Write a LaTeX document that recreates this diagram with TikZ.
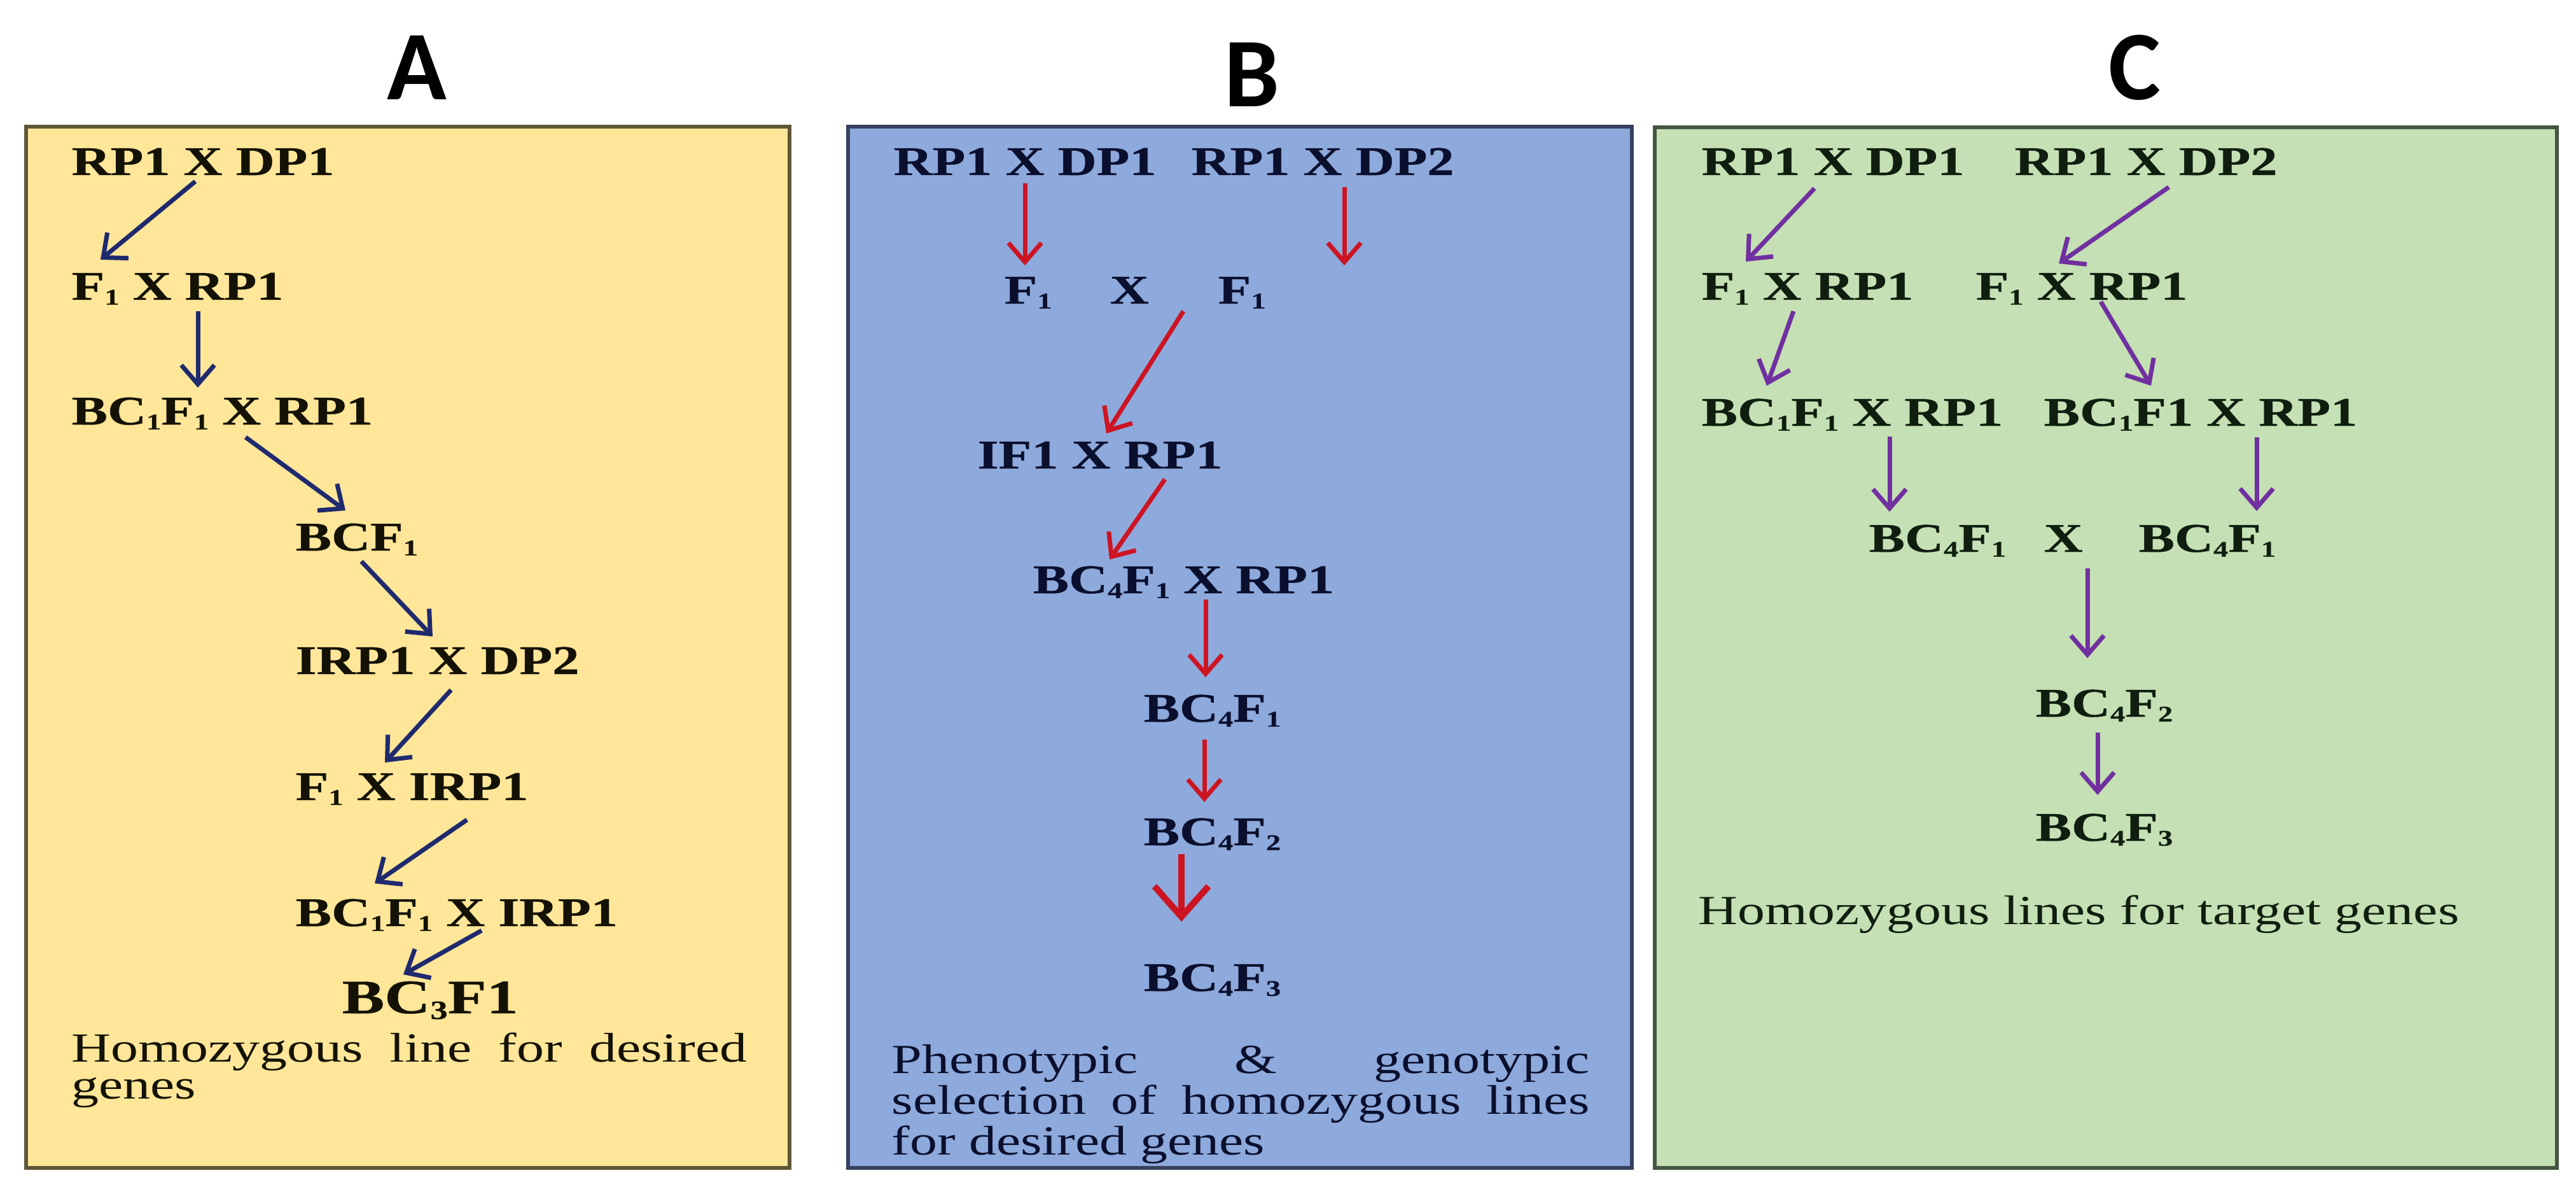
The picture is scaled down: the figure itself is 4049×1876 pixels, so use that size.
\documentclass[tikz,border=0pt]{standalone}
\usepackage{fontspec}
\setmainfont{Liberation Serif}[FakeStretch=1.32, BoldFeatures={FakeBold=0.6}]
\newfontfamily\titlefont{Carlito}
\usetikzlibrary{arrows.meta}
\newcommand\sbs[1]{\raisebox{-0.12em}{\scalebox{0.55}{#1}}}
\tolerance=10000
\hyphenpenalty=10000
\exhyphenpenalty=10000
\definecolor{fillA}{RGB}{255,230,153}
\definecolor{fillB}{RGB}{142,169,219}
\definecolor{fillC}{RGB}{197,224,180}
\definecolor{bordA}{RGB}{95,85,55}
\definecolor{bordB}{RGB}{55,65,95}
\definecolor{bordC}{RGB}{70,85,65}
\definecolor{navyA}{RGB}{31,42,110}
\definecolor{redB}{RGB}{205,20,35}
\definecolor{purC}{RGB}{112,48,160}
\definecolor{txtA}{RGB}{20,18,5}
\definecolor{txtB}{RGB}{10,15,45}
\definecolor{txtC}{RGB}{15,30,15}
\tikzset{
  panel/.style={line width=0.06cm},
  lab/.style={anchor=base west, inner sep=0pt, font=\fontsize{18.2}{22}\selectfont\bfseries},
  title/.style={anchor=base, inner sep=0pt, font=\titlefont\fontsize{44}{48}\selectfont\bfseries},
  para/.style={anchor=north west, inner sep=0pt, align=justify, font=\fontsize{18.5}{16.5}\selectfont},
  arA/.style={draw=navyA, line width=0.07cm, -{Straight Barb[length=0.3cm,width=0.52cm]}},
  arB/.style={draw=redB, line width=0.07cm, -{Straight Barb[length=0.3cm,width=0.52cm]}},
  arBbig/.style={draw=redB, line width=0.1cm, -{Straight Barb[length=0.48cm,width=0.85cm]}},
  arC/.style={draw=purC, line width=0.07cm, -{Straight Barb[length=0.3cm,width=0.52cm]}},
}
\begin{document}
\begin{tikzpicture}[x=0.01cm, y=-0.01cm]
\useasboundingbox (0,0) rectangle (4049,1876);
\fill[white] (0,0) rectangle (4049,1876);

% panels
\draw[panel, fill=fillA, draw=bordA] (41,199) rectangle (1241,1835);
\draw[panel, fill=fillB, draw=bordB] (1333,199) rectangle (2565,1835);
\draw[panel, fill=fillC, draw=bordC] (2601,200) rectangle (4019,1835);

% titles
\node[title] (tA) at (655,157) {A};
\node[title] (tB) at (1968,168) {B};
\node[title] (tC) at (3355,157) {C};

% ---------- Panel A ----------
\begin{scope}[every node/.append style={text=txtA}]
\node[lab] (a1) at (112,275) {RP1 X DP1};
\node[lab] (a2) at (112,471) {F\sbs{1} X RP1};
\node[lab] (a3) at (112,667) {BC\sbs{1}F\sbs{1} X RP1};
\node[lab] (a4) at (464,865) {BCF\sbs{1}};
\node[lab] (a5) at (464,1059) {IRP1 X DP2};
\node[lab] (a6) at (464,1257) {F\sbs{1} X IRP1};
\node[lab] (a7) at (464,1455) {BC\sbs{1}F\sbs{1} X IRP1};
\node[lab, font=\fontsize{21.5}{26}\selectfont\bfseries] (a8) at (537,1592) {BC\sbs{3}F1};
\node[para, text width=10.61cm] (pa) at (112,1622) {Homozygous line for desired genes};
\end{scope}
\draw[arA] ([shift={(195,10)}]a1.base west) -- ([shift={(46,-63)}]a2.base west);
\draw[arA] ([shift={(199,18)}]a2.base west) -- ([shift={(199,-58)}]a3.base west);
\draw[arA] ([shift={(274,20)}]a3.base west) -- ([shift={(79,-63)}]a4.base west);
\draw[arA] ([shift={(104,17)}]a4.base west) -- ([shift={(216,-59)}]a5.base west);
\draw[arA] ([shift={(245,25)}]a5.base west) -- ([shift={(141,-59)}]a6.base west);
\draw[arA] ([shift={(270,31)}]a6.base west) -- ([shift={(125,-67)}]a7.base west);
\draw[arA] ([shift={(293,7)}]a7.base west) -- ([shift={(97,-61)}]a8.base west);

% ---------- Panel B ----------
\begin{scope}[every node/.append style={text=txtB}]
\node[lab] (b1) at (1404,275) {RP1 X DP1};
\node[lab] (b2) at (1872,275) {RP1 X DP2};
\node[lab] (b3) at (1578,477) {F\sbs{1}};
\node[lab] (b4) at (1744,477) {X};
\node[lab] (b5) at (1914,477) {F\sbs{1}};
\node[lab] (b6) at (1536,736) {IF1 X RP1};
\node[lab] (b7) at (1623,932) {BC\sbs{4}F\sbs{1} X RP1};
\node[lab] (b8) at (1797,1134) {BC\sbs{4}F\sbs{1}};
\node[lab] (b9) at (1797,1328) {BC\sbs{4}F\sbs{2}};
\node[lab] (b10) at (1797,1557) {BC\sbs{4}F\sbs{3}};
\node[para, text width=10.96cm, font=\fontsize{18.5}{18.2}\selectfont] (pb) at (1401,1641) {Phenotypic \& genotypic selection of homozygous lines for desired genes};
\end{scope}
\draw[arB] ([shift={(207,13)}]b1.base west) -- ([shift={(33,-60)}]b3.base west);
\draw[arB] ([shift={(241,19)}]b2.base west) -- ([shift={(199,-60)}]b5.base west);
\draw[arB] ([shift={(-54,12)}]b5.base west) -- ([shift={(203,-55)}]b6.base west);
\draw[arB] ([shift={(295,17)}]b6.base west) -- ([shift={(121,-53)}]b7.base west);
\draw[arB] ([shift={(272,10)}]b7.base west) -- ([shift={(98,-70)}]b8.base west);
\draw[arB] ([shift={(96,28)}]b8.base west) -- ([shift={(96,-68)}]b9.base west);
\draw[arBbig] ([shift={(60,14)}]b9.base west) -- ([shift={(60,-109)}]b10.base west);

% ---------- Panel C ----------
\begin{scope}[every node/.append style={text=txtC}]
\node[lab] (c1) at (2674,275) {RP1 X DP1};
\node[lab] (c2) at (3166,275) {RP1 X DP2};
\node[lab] (c3) at (2674,471) {F\sbs{1} X RP1};
\node[lab] (c4) at (3105,471) {F\sbs{1} X RP1};
\node[lab] (c5) at (2674,669) {BC\sbs{1}F\sbs{1} X RP1};
\node[lab] (c6) at (3212,669) {BC\sbs{1}F1 X RP1};
\node[lab] (c7) at (2937,867) {BC\sbs{4}F\sbs{1}};
\node[lab] (c8) at (3212,867) {X};
\node[lab] (c9) at (3361,867) {BC\sbs{4}F\sbs{1}};
\node[lab] (c10) at (3199,1126) {BC\sbs{4}F\sbs{2}};
\node[lab] (c11) at (3199,1321) {BC\sbs{4}F\sbs{3}};
\node[anchor=base west, inner sep=0pt, font=\fontsize{18.5}{22}\selectfont] (pc) at (2669,1452) {Homozygous lines for target genes};
\end{scope}
\draw[arC] ([shift={(178,21)}]c1.base west) -- ([shift={(70,-60)}]c3.base west);
\draw[arC] ([shift={(243,19)}]c2.base west) -- ([shift={(131,-57)}]c4.base west);
\draw[arC] ([shift={(145,18)}]c3.base west) -- ([shift={(103,-63)}]c5.base west);
\draw[arC] ([shift={(197,3)}]c4.base west) -- ([shift={(169,-63)}]c6.base west);
\draw[arC] ([shift={(296,17)}]c5.base west) -- ([shift={(33,-63)}]c7.base west);
\draw[arC] ([shift={(335,18)}]c6.base west) -- ([shift={(186,-64)}]c9.base west);
\draw[arC] ([shift={(69,26)}]c8.base west) -- ([shift={(82,-92)}]c10.base west);
\draw[arC] ([shift={(98,25)}]c10.base west) -- ([shift={(98,-72)}]c11.base west);
\end{tikzpicture}
\end{document}
